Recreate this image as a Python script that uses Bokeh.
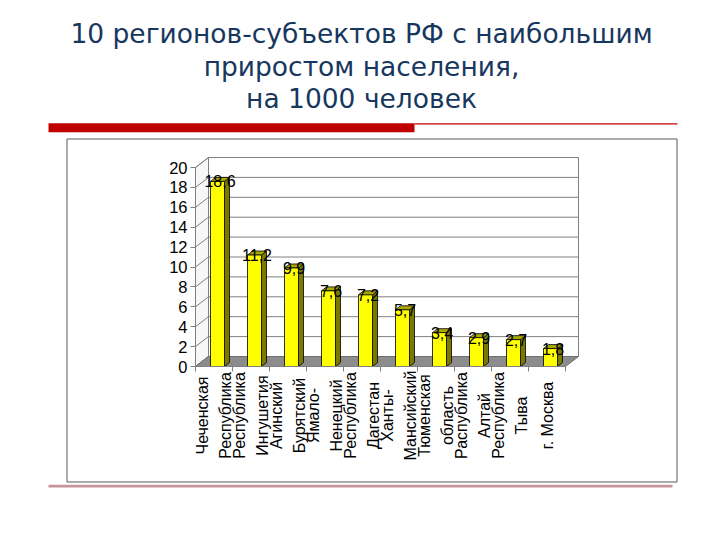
import numpy as np
from bokeh.plotting import figure
from bokeh.models import Range1d, LinearAxis, FixedTicker, ColumnDataSource
from bokeh.embed import file_html
from bokeh.resources import INLINE
from bokeh.core.properties import value

# ---------------- data ----------------
title_lines = ["10 регионов-субъектов РФ с наибольшим",
               "приростом населения,",
               "на 1000 человек"]
regions = [["Чеченская", "Республика"],
           ["Республика", "Ингушетия"],
           ["Агинский", "Бурятский"],
           ["Ямало-", "Ненецкий"],
           ["Республика", "Дагестан"],
           ["Ханты-", "Мансийский"],
           ["Тюменская", "область"],
           ["Распублика", "Алтай"],
           ["Республика", "Тыва"],
           ["г. Москва"]]
growth = [18.6, 11.2, 9.9, 7.6, 7.2, 5.7, 3.4, 2.9, 2.7, 1.8]
y_ticks = [0, 2, 4, 6, 8, 10, 12, 14, 16, 18, 20]

# ---------------- layout (pixels) ----------------
W, H = 712, 532
X0, Y0 = 195, 366          # page position of data (0, 0)
PXX, PXY = 37.0, 9.95      # px per data unit
n = len(growth)

def X(px):
    return (px - X0) / PXX

def Y(py):
    return (Y0 - py) / PXY

DX, DY = 13 / PXX, 10 / PXY               # wall depth
BW = 14 / PXX                              # bar width
SH = 3.5 / PXX                             # bar shift
BDX, BDY = 5 / PXX, 4 / PXY                # bar depth

grey = "#808080"
font = value("Liberation Sans")

p = figure(width=W, height=H,
           x_range=Range1d(X(0), X(W)), y_range=Range1d(Y(H), Y(0)),
           output_backend="svg", toolbar_location=None,
           x_axis_type=None, y_axis_type=None,
           min_border_left=0, min_border_right=0, min_border_top=0, min_border_bottom=0)
p.outline_line_color = None
p.background_fill_color = "white"
p.border_fill_color = "white"

# decorative red bars and frame box
p.quad(left=X(48), right=X(414), top=Y(122.7), bottom=Y(131.7),
       fill_color="#c00000", line_color=None)
p.quad(left=X(414), right=X(677), top=Y(122.8), bottom=Y(123.9),
       fill_color="#c00000", line_color=None)
p.quad(left=X(66.5), right=X(676.5), top=Y(138.5), bottom=Y(481.5),
       fill_color=None, line_color="#595959", line_width=1)
p.quad(left=X(48), right=X(672), top=Y(484.3), bottom=Y(487),
       fill_color="#c8949a", line_color=None)

# back wall
p.quad(left=DX, right=n + DX, bottom=DY, top=20 + DY,
       fill_color="white", line_color=grey, line_width=1)
gt = np.array(y_ticks[1:], dtype=float)
p.segment(x0=np.full(len(gt), DX), y0=gt + DY, x1=np.full(len(gt), n + DX), y1=gt + DY,
          line_color=grey, line_width=1)
# left wall
p.patch(x=[0, DX, DX, 0], y=[0, DY, 20 + DY, 20], fill_color="#f7f7f7",
        line_color=grey, line_width=1)
gt0 = np.array(y_ticks, dtype=float)
p.segment(x0=np.zeros(len(gt0)), y0=gt0, x1=np.full(len(gt0), DX), y1=gt0 + DY,
          line_color=grey, line_width=1)
# floor
p.patch(x=[0, n, n + DX, DX], y=[0, 0, DY, DY], fill_color="#8c8c8c",
        line_color="#6e6e6e", line_width=1)

# bars
centers = np.arange(n) + 0.5 + SH
vals = np.array(growth)
xl = centers - BW / 2
xr = centers + BW / 2
side_xs = [[a, a + BDX, a + BDX, a] for a in xr]
side_ys = [[0, BDY, v + BDY, v] for v in vals]
top_xs = [[a, b, b + BDX, a + BDX] for a, b in zip(xl, xr)]
top_ys = [[v, v, v + BDY, v + BDY] for v in vals]
p.patches(xs=side_xs, ys=side_ys, fill_color="#7a7a00", line_color="black", line_width=0.8)
p.patches(xs=top_xs, ys=top_ys, fill_color="#a8a800", line_color="black", line_width=0.8)
p.vbar(x=centers, width=BW, bottom=0, top=vals, fill_color="#ffff00",
       line_color="black", line_width=0.8)

# axes (fixed inside the frame)
yaxis = LinearAxis(ticker=FixedTicker(ticks=y_ticks), bounds=(0, 20), fixed_location=0,
                   axis_line_color=grey, major_tick_line_color=grey,
                   major_tick_out=5, major_tick_in=0, minor_tick_line_color=None,
                   major_label_text_font="Liberation Sans",
                   major_label_text_font_size="16.5px",
                   major_label_text_color="black", major_label_standoff=3)
p.add_layout(yaxis, "left")
xaxis = LinearAxis(ticker=FixedTicker(ticks=list(range(n + 1))), bounds=(0, n), fixed_location=0,
                   axis_line_color=grey, major_tick_line_color=grey,
                   major_tick_out=5, major_tick_in=0, minor_tick_line_color=None,
                   major_label_overrides={i: "" for i in range(n + 1)})
p.add_layout(xaxis, "below")

# value labels
lab_src = ColumnDataSource(dict(x=centers + 2.5 / PXX, y=vals,
                                t=[f"{v:.1f}".replace(".", ",") for v in growth]))
p.text(x="x", y="y", text="t", source=lab_src, text_align="center",
       text_baseline="alphabetic", text_font=font, text_font_size="16px",
       text_color="black")

# category labels (rotated, each line centred)
cx, cy, ct = [], [], []
for i, lines in enumerate(regions):
    k = len(lines)
    for j, line in enumerate(lines):
        off = (j - (k - 1) / 2) * 23 / PXX
        cx.append(i + 0.5 + off)
        cy.append(Y(415))
        ct.append(line)
cat_src = ColumnDataSource(dict(x=cx, y=cy, t=ct))
p.text(x="x", y="y", text="t", source=cat_src, angle=np.pi / 2,
       text_align="center", text_baseline="middle",
       text_font=font, text_font_size="16px", text_color="black")

# title
tsrc = ColumnDataSource(dict(x=[X(361)] * 3, y=[Y(33), Y(66), Y(98)], t=title_lines))
p.text(x="x", y="y", text="t", source=tsrc, text_align="center", text_baseline="middle",
       text_font=value("DejaVu Sans"), text_font_size="26.5px", text_color="#17375e")

open("out.html", "w").write(file_html(p, INLINE))
